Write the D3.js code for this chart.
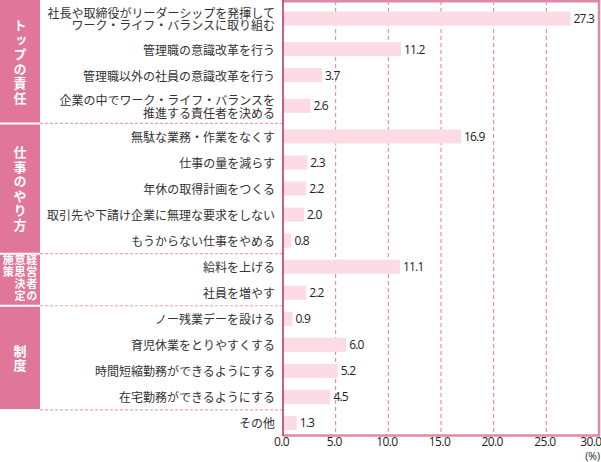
<!DOCTYPE html>
<html><head><meta charset="utf-8">
<script src="https://cdn.jsdelivr.net/npm/d3@7"></script>
<style>
html,body{margin:0;padding:0;background:#fff;}
svg{display:block;}
</style></head>
<body>
<svg id="chart" width="601" height="462"></svg>
<script>
const categories = [
  "社長や取締役がリーダーシップを発揮して\nワーク・ライフ・バランスに取り組む",
  "管理職の意識改革を行う",
  "管理職以外の社員の意識改革を行う",
  "企業の中でワーク・ライフ・バランスを\n推進する責任者を決める",
  "無駄な業務・作業をなくす",
  "仕事の量を減らす",
  "年休の取得計画をつくる",
  "取引先や下請け企業に無理な要求をしない",
  "もうからない仕事をやめる",
  "給料を上げる",
  "社員を増やす",
  "ノー残業デーを設ける",
  "育児休業をとりやすくする",
  "時間短縮勤務ができるようにする",
  "在宅勤務ができるようにする",
  "その他"
];
const values = [27.3, 11.2, 3.7, 2.6, 16.9, 2.3, 2.2, 2.0, 0.8, 11.1, 2.2, 0.9, 6.0, 5.2, 4.5, 1.3];
const rowGroup = [0,0,0,0, 1,1,1,1,1, 2,2, 3,3,3,3, 4];
const groupLabels = [["トップの責任"], ["仕事のやり方"], ["経営者の","意思決定","施策"], ["制度"], []];
const xTicks = [0, 5, 10, 15, 20, 25, 30];
const unitLabel = "(%)";

const svg = d3.select("#chart");
const plotLeft = 283, plotRight = 599, plotTop = 1, plotBottom = 436;
const sideW = 40;
const pink = "#e0779b";
const numFont = "'Open Sans', sans-serif";
const jpFont = "'Noto Sans CJK JP', sans-serif";

const x = d3.scaleLinear().domain([0, 30]).range([plotLeft, plotRight]);

// row weights from number of label lines
const weights = categories.map(c => 1 + 0.35 * (c.split("\n").length - 1));
const starts = [];
let acc = 0;
weights.forEach(w => { starts.push(acc); acc += w; });
const y = d3.scaleLinear().domain([0, acc]).range([plotTop, plotBottom]);
const unit = y(1) - y(0);
const barH = unit * 0.54;
const rowCenter = i => y(starts[i] + weights[i] / 2);

// group extents
const groups = groupLabels.map((g, gi) => {
  const idx = rowGroup.map((r, i) => r === gi ? i : -1).filter(i => i >= 0);
  const a = idx[0], b = idx[idx.length - 1];
  return { labels: g, top: y(starts[a]), bottom: y(starts[b] + weights[b]) };
});
groups[0].top = 0;

// sidebar
groups.forEach(g => {
  if (!g.labels.length) return;
  svg.append("rect").attr("x", 0).attr("y", g.top).attr("width", sideW)
    .attr("height", g.bottom - g.top).attr("fill", pink);
});
groups.slice(0, -1).forEach(g => {
  svg.append("line").attr("x1", 0).attr("x2", sideW).attr("y1", g.bottom).attr("y2", g.bottom)
    .attr("stroke", "#fff").attr("stroke-width", 2);
  svg.append("line").attr("x1", sideW).attr("x2", plotLeft).attr("y1", g.bottom).attr("y2", g.bottom)
    .attr("stroke", "#eea3bc").attr("stroke-width", 1.2).attr("stroke-dasharray", "3,2");
});

// vertical group labels (vertical writing mode)
groups.forEach(g => {
  const cols = g.labels;
  if (!cols.length) return;
  const multi = cols.length > 1;
  const fs = multi ? 11 : 13;
  const ls = multi ? 1 : 1.5;
  cols.forEach((c, ci) => {
    const cx = 20 + ((cols.length - 1) / 2 - ci) * 11.7;
    const t = svg.append("text")
      .attr("x", cx)
      .attr("writing-mode", "vertical-rl")
      .style("text-orientation", "upright")
      .attr("font-family", jpFont)
      .attr("font-weight", "bold").attr("font-size", fs).attr("fill", "#fff")
      .attr("letter-spacing", ls)
      .text(c);
    if (multi) {
      t.attr("y", g.top + 1).attr("text-anchor", "start");
    } else {
      t.attr("y", (g.top + g.bottom) / 2 + ls / 2).attr("text-anchor", "middle");
    }
  });
});

// gridlines
xTicks.filter(t => t > 0 && t < 30).forEach(t => {
  svg.append("line").attr("x1", x(t)).attr("x2", x(t)).attr("y1", plotTop).attr("y2", plotBottom)
    .attr("stroke", "#e5789c").attr("stroke-width", 1).attr("stroke-dasharray", "4,3");
});

// bars
svg.append("g").selectAll("rect").data(values).join("rect")
  .attr("x", x(0)).attr("y", (d, i) => rowCenter(i) - barH / 2)
  .attr("width", d => x(d) - x(0)).attr("height", barH)
  .attr("fill", "#fddbe5");

// value labels
svg.append("g").selectAll("text").data(values).join("text")
  .attr("x", d => x(d) + 3).attr("y", (d, i) => rowCenter(i))
  .attr("dominant-baseline", "central")
  .attr("font-family", numFont).attr("font-size", 12).attr("letter-spacing", -0.8)
  .attr("fill", "#222")
  .text(d => d.toFixed(1));

// category labels (one text per row, lines as tspans)
categories.forEach((c, i) => {
  const lines = c.split("\n");
  const lh = 12.5;
  const cy = rowCenter(i);
  const t = svg.append("text").attr("text-anchor", "end")
    .attr("font-family", jpFont).attr("font-size", 12).attr("fill", "#333");
  lines.forEach((ln, k) => {
    t.append("tspan").attr("x", 275)
      .attr("y", cy + (k - (lines.length - 1) / 2) * lh)
      .attr("dominant-baseline", "central").text(ln);
  });
});

// frame: top, right, bottom, left axis
svg.append("line").attr("x1", plotLeft).attr("x2", 600).attr("y1", 1.2).attr("y2", 1.2)
  .attr("stroke", "#df88a7").attr("stroke-width", 2.5);
svg.append("line").attr("x1", 599).attr("x2", 599).attr("y1", 0).attr("y2", plotBottom)
  .attr("stroke", "#df88a7").attr("stroke-width", 2.5);
svg.append("line").attr("x1", plotLeft).attr("x2", 600).attr("y1", plotBottom - 0.5).attr("y2", plotBottom - 0.5)
  .attr("stroke", "#df88a7").attr("stroke-width", 2.5);
svg.append("line").attr("x1", plotLeft).attr("x2", plotLeft).attr("y1", 0).attr("y2", plotBottom)
  .attr("stroke", "#b22e5e").attr("stroke-width", 1.5);

// x axis
const axis = d3.axisBottom(x).tickValues(xTicks).tickFormat(d3.format(".1f")).tickSize(0).tickPadding(0);
const ag = svg.append("g").attr("transform", `translate(-2,0)`).call(axis);
ag.select(".domain").remove();
ag.selectAll("text").attr("font-family", numFont).attr("font-size", 12).attr("letter-spacing", -0.6)
  .attr("fill", "#222").attr("dy", null).attr("y", 446);
ag.selectAll("text").filter(d => d === 30).attr("text-anchor", "end").attr("x", 603 - x(30));

svg.append("text").attr("x", 600).attr("y", 459.5).attr("text-anchor", "end")
  .attr("font-family", numFont).attr("font-size", 10.5).attr("fill", "#222")
  .text(unitLabel);
</script>
</body></html>
